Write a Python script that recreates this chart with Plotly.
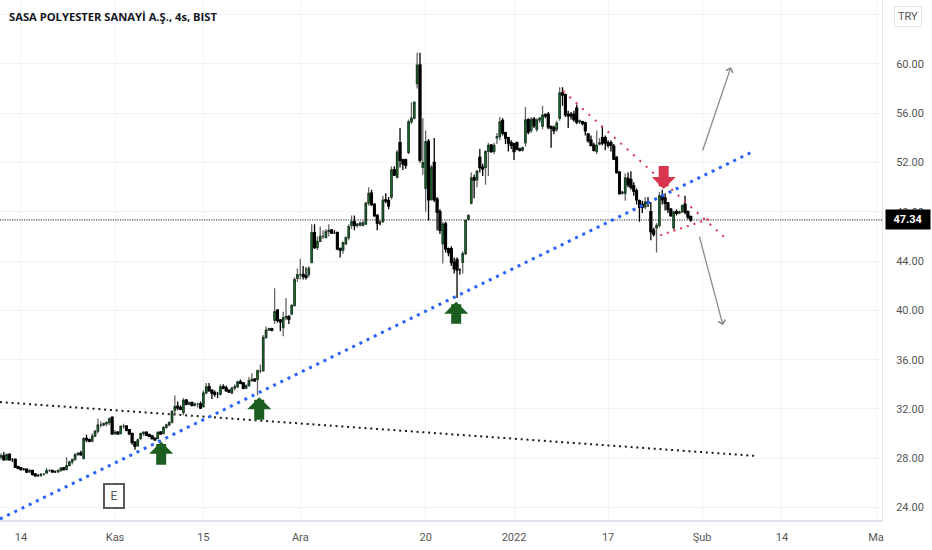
import plotly.graph_objects as go

# 4h bars, prices in TRY
opens = [
    28.1, 28.2, 27.9, 28.3, 27.9, 27.9, 27.3, 27.2, 27.1, 27.1,
    26.9, 27.0, 26.7, 26.6, 26.6, 26.7, 26.8, 27.0, 27.0, 26.9,
    26.9, 27.0, 27.2, 27.1, 27.4, 27.7, 27.9, 28.3, 28.4, 28.0,
    29.6, 29.5, 29.4, 29.8, 30.2, 30.7, 30.7, 30.8, 30.9, 31.3,
    30.0, 30.1, 30.0, 30.6, 30.6, 30.3, 30.0, 29.3, 29.0, 29.6,
    30.0, 30.1, 29.9, 29.8, 29.6, 29.6, 30.1, 30.0, 30.5, 30.7,
    30.9, 31.9, 32.2, 32.1, 31.7, 32.7, 32.4, 32.5, 32.3, 32.4,
    32.4, 32.2, 33.3, 33.8, 33.5, 33.3, 33.2, 33.2, 33.8, 33.7,
    33.5, 33.3, 33.7, 33.8, 34.2, 34.1, 33.7, 33.9, 34.3, 34.4,
    34.4, 35.1, 35.1, 37.8, 38.4, 38.5, 39.2, 40.0, 39.2, 38.6,
    39.4, 39.5, 39.7, 40.4, 42.6, 42.9, 42.9, 42.8, 42.9, 43.9,
    46.3, 45.1, 45.6, 46.0, 45.9, 46.4, 46.5, 46.3, 46.3, 45.0,
    44.9, 45.4, 45.9, 46.9, 47.2, 46.9, 46.9, 46.9, 47.0, 48.7,
    49.5, 48.6, 47.7, 47.1, 47.2, 48.95, 48.9, 49.2, 51.4, 50.8,
    53.6, 52.2, 52.2, 52.8, 55.3, 55.6, 58.4, 59.9, 51.6, 49.9,
    53.7, 49.0, 52.0, 49.0, 48.0, 45.4, 47.0, 45.0, 45.0, 43.9,
    44.1, 43.3, 43.9, 44.6, 47.4, 48.7, 50.75, 50.6, 52.4, 51.6,
    51.6, 52.9, 53.4, 52.9, 54.0, 54.1, 55.4, 54.4, 54.0, 53.6,
    53.5, 53.6, 53.1, 53.0, 53.6, 55.45, 54.6, 55.5, 54.7, 55.45,
    54.95, 55.85, 55.9, 54.9, 54.8, 54.7, 55.6, 57.65, 57.5, 55.9,
    55.9, 55.9, 56.4, 55.3, 55.3, 55.2, 54.3, 53.8, 53.4, 52.9,
    53.5, 54.0, 54.0, 53.6, 53.6, 53.3, 52.4, 51.2, 49.5, 49.5,
    50.7, 50.6, 50.1, 49.7, 48.9, 48.6, 48.4, 48.8, 48.0, 46.5,
    46.7, 46.9, 49.3, 49.1, 48.7, 48.2, 46.7, 48.0, 47.9, 48.0,
    48.6, 48.0, 47.6,
]
highs = [
    28.4, 28.5, 28.4, 28.4, 28.0, 27.9, 27.4, 27.3, 27.2, 27.1,
    27.1, 27.0, 26.8, 26.7, 26.8, 26.8, 27.2, 27.1, 27.0, 27.0,
    27.1, 27.3, 27.3, 28.1, 27.8, 27.9, 28.4, 28.5, 28.6, 29.7,
    29.9, 29.6, 30.0, 30.3, 31.2, 31.0, 30.9, 31.0, 31.3, 31.4,
    30.3, 30.2, 30.6, 30.8, 30.6, 30.3, 30.0, 29.3, 29.6, 30.1,
    30.2, 30.1, 30.0, 29.8, 29.7, 30.2, 30.2, 30.6, 30.8, 31.0,
    31.9, 33.1, 32.6, 32.3, 32.9, 32.8, 32.6, 32.6, 32.5, 32.5,
    32.6, 33.5, 34.1, 34.1, 33.6, 33.5, 33.4, 34.0, 34.0, 33.9,
    33.6, 33.8, 34.0, 34.3, 34.4, 34.1, 34.0, 34.6, 34.9, 34.5,
    35.2, 35.6, 38.0, 38.7, 38.6, 38.6, 41.8, 40.1, 39.3, 39.9,
    41.0, 39.6, 40.5, 42.7, 43.4, 44.2, 43.6, 43.5, 43.6, 47.0,
    47.0, 46.0, 46.8, 46.5, 46.6, 47.0, 46.6, 46.5, 46.4, 45.1,
    45.6, 46.0, 47.0, 47.7, 47.7, 47.1, 47.2, 47.3, 48.8, 50.0,
    49.8, 48.7, 47.8, 47.3, 49.3, 49.5, 49.2, 51.7, 51.7, 53.0,
    54.8, 52.3, 52.3, 55.5, 56.9, 56.9, 60.9, 60.9, 55.6, 54.6,
    53.9, 51.8, 54.0, 49.2, 48.2, 47.2, 47.2, 45.1, 45.2, 44.3,
    44.3, 43.4, 44.8, 47.4, 47.8, 51.2, 51.0, 51.4, 53.1, 51.9,
    53.0, 53.6, 53.5, 53.6, 54.4, 55.7, 55.6, 54.5, 54.1, 53.8,
    53.6, 53.7, 53.2, 53.3, 56.5, 55.6, 55.7, 55.7, 55.6, 55.7,
    56.6, 56.0, 56.1, 55.0, 55.0, 55.4, 58.1, 58.1, 57.6, 56.2,
    56.1, 56.2, 56.7, 55.5, 55.4, 55.3, 54.4, 54.2, 53.6, 54.6,
    54.0, 54.9, 54.2, 53.8, 53.8, 53.5, 52.5, 51.3, 49.7, 51.1,
    51.2, 51.3, 50.4, 49.9, 49.0, 48.9, 49.2, 49.2, 48.8, 46.7,
    47.1, 49.6, 49.8, 49.5, 48.8, 48.3, 48.1, 48.2, 48.1, 48.6,
    49.3, 48.1, 47.7,
]
lows = [
    27.9, 27.8, 27.8, 27.8, 27.7, 27.2, 27.1, 27.0, 27.0, 26.8,
    26.8, 26.6, 26.5, 26.5, 26.5, 26.6, 26.8, 26.9, 26.9, 26.8,
    26.8, 26.9, 27.0, 27.0, 27.4, 27.5, 27.8, 28.2, 28.2, 27.9,
    29.3, 29.3, 29.3, 29.7, 30.0, 30.5, 30.6, 30.6, 30.7, 29.9,
    29.9, 29.9, 30.0, 30.4, 30.2, 29.9, 29.1, 28.7, 29.0, 29.5,
    29.8, 29.8, 29.7, 29.6, 29.5, 29.6, 29.9, 30.0, 30.4, 30.6,
    30.9, 31.6, 31.9, 31.9, 31.5, 32.3, 32.3, 32.2, 32.2, 32.1,
    32.0, 32.1, 33.2, 33.4, 32.8, 33.0, 32.9, 33.1, 33.6, 33.4,
    33.3, 33.2, 33.5, 33.7, 34.0, 33.6, 33.6, 33.8, 34.2, 34.2,
    33.1, 34.9, 35.1, 37.7, 38.4, 38.3, 38.9, 39.0, 38.3, 37.9,
    39.2, 38.9, 39.6, 40.3, 42.3, 42.5, 42.5, 42.5, 42.7, 43.8,
    45.0, 44.9, 45.6, 45.8, 45.9, 46.0, 46.2, 46.2, 44.9, 44.3,
    44.6, 45.3, 45.7, 46.6, 46.5, 46.7, 46.8, 46.8, 47.0, 48.5,
    48.5, 47.6, 46.5, 46.9, 47.1, 48.7, 48.2, 49.0, 50.9, 50.7,
    51.6, 51.4, 51.5, 52.7, 55.1, 55.5, 58.0, 52.0, 51.0, 48.0,
    47.3, 48.9, 48.8, 46.5, 46.2, 43.8, 44.7, 44.4, 43.6, 43.0,
    41.0, 42.9, 43.0, 44.5, 47.3, 48.6, 49.1, 50.0, 51.2, 50.9,
    50.2, 50.9, 52.8, 52.7, 53.5, 53.8, 54.2, 53.5, 52.9, 53.1,
    52.2, 53.0, 52.9, 52.9, 53.3, 54.3, 54.4, 54.8, 54.5, 55.2,
    54.7, 55.6, 54.7, 53.2, 54.3, 54.5, 55.4, 56.6, 55.7, 54.8,
    55.5, 55.3, 55.1, 55.1, 55.0, 54.2, 53.6, 53.3, 52.9, 52.7,
    53.4, 53.4, 53.0, 53.2, 52.9, 52.2, 51.1, 49.4, 49.4, 48.9,
    50.0, 49.8, 49.3, 48.6, 47.2, 47.9, 48.2, 48.4, 45.7, 46.0,
    44.7, 46.7, 48.6, 48.1, 47.9, 47.6, 46.5, 47.7, 47.8, 47.9,
    47.8, 47.4, 47.2,
]
closes = [
    28.2, 27.9, 28.3, 27.9, 27.9, 27.3, 27.2, 27.1, 27.1, 26.9,
    27.0, 26.7, 26.6, 26.6, 26.7, 26.7, 27.0, 27.0, 26.9, 26.9,
    27.0, 27.2, 27.1, 27.4, 27.7, 27.9, 28.3, 28.4, 28.3, 29.6,
    29.5, 29.4, 29.8, 30.2, 30.7, 30.7, 30.8, 30.9, 31.2, 30.0,
    30.1, 30.0, 30.6, 30.6, 30.3, 30.0, 29.3, 29.0, 29.5, 30.0,
    30.1, 29.9, 29.8, 29.6, 29.5, 30.1, 30.0, 30.5, 30.7, 30.9,
    31.8, 32.2, 32.1, 32.0, 32.7, 32.4, 32.5, 32.3, 32.4, 32.4,
    32.1, 33.3, 33.8, 33.5, 33.3, 33.2, 33.2, 33.8, 33.7, 33.5,
    33.4, 33.7, 33.8, 34.2, 34.1, 33.7, 33.9, 34.3, 34.4, 34.3,
    35.1, 35.1, 37.8, 38.4, 38.5, 38.4, 39.9, 39.2, 39.1, 39.4,
    39.5, 39.3, 40.4, 42.5, 42.9, 42.9, 42.8, 42.7, 43.4, 46.3,
    45.1, 45.6, 46.0, 46.0, 46.4, 46.5, 46.3, 46.3, 45.0, 44.9,
    45.5, 45.9, 46.8, 47.2, 46.9, 47.0, 47.1, 47.1, 48.7, 49.5,
    48.6, 47.7, 47.1, 47.1, 48.95, 48.9, 48.5, 51.4, 51.0, 52.85,
    52.2, 51.9, 51.8, 55.3, 55.6, 56.9, 59.9, 52.2, 52.0, 53.7,
    49.0, 51.6, 49.0, 48.0, 46.5, 47.0, 45.0, 44.7, 43.9, 43.4,
    43.3, 43.3, 44.6, 47.3, 47.7, 50.75, 50.6, 51.3, 51.6, 51.5,
    52.9, 53.4, 52.9, 53.4, 54.1, 55.3, 54.4, 54.0, 53.6, 53.4,
    52.9, 53.1, 53.0, 53.2, 55.45, 54.5, 55.5, 55.0, 55.45, 55.6,
    55.85, 55.8, 54.9, 54.8, 54.6, 55.2, 57.65, 57.5, 55.9, 55.8,
    55.8, 55.5, 55.3, 55.4, 55.2, 54.6, 53.8, 53.4, 53.0, 53.4,
    53.6, 53.6, 53.6, 53.4, 53.4, 52.3, 51.2, 49.5, 49.6, 50.75,
    50.2, 50.0, 49.7, 49.0, 48.4, 48.4, 48.8, 48.7, 46.4, 46.2,
    46.9, 49.3, 49.0, 48.7, 48.2, 47.7, 48.0, 47.9, 48.0, 48.5,
    48.0, 47.6, 47.34,
]

tick_bars = [7, 40, 71, 105, 149, 180, 213, 246, 274, 307]
tick_names = ["14", "Kas", "15", "Ara", "20", "2022", "17", "Şub", "14", "Ma"]
price_ticks = [24, 28, 32, 36, 40, 44, 48, 52, 56, 60, 64]
price_names = ["24.00", "28.00", "32.00", "36.00", "40.00", "44.00", "48.00", "52.00", "56.00", "60.00", ""]
last_price = 47.34

# drawings on the chart, (bar, price) at each end
blue_x, blue_y = [-0.35, 263.5], [23.07, 52.86]
black_x, black_y = [-0.35, 265.3], [32.56, 28.18]
red_top_x, red_top_y = [197.2, 253.7], [57.8, 45.96]
red_low_x, red_low_y = [231.3, 249.5], [46.1, 47.5]

# tip bar, tip price, tail price
green_arrows = [(56.2, 29.35, 27.35), (90.6, 32.95, 31.0), (159.7, 40.7, 38.8)]
red_arrow = (232.5, 49.85, 51.85)
# tip bar, tip price, tail bar, tail price
grey_arrows = [(256.1, 59.75, 246.0, 52.85), (253.3, 38.8, 244.9, 46.1)]

bars = list(range(len(closes)))
body_high = [max(o, c) for o, c in zip(opens, closes)]
body_low = [min(o, c) for o, c in zip(opens, closes)]

fig = go.Figure()

# wicks, grey on up bars
fig.add_trace(go.Candlestick(
    x=bars, open=opens, high=highs, low=lows, close=closes,
    increasing=dict(line=dict(color="#666666", width=1.3), fillcolor="#1f7a34"),
    decreasing=dict(line=dict(color="#000000", width=1.3), fillcolor="#000000"),
    hoverinfo="skip", showlegend=False))
# bodies again on top with a black outline
fig.add_trace(go.Candlestick(
    x=bars, open=opens, high=body_high, low=body_low, close=closes,
    increasing=dict(line=dict(color="#0c2e14", width=0.8), fillcolor="#23893a"),
    decreasing=dict(line=dict(color="#000000", width=1.6), fillcolor="#000000"),
    hoverinfo="skip", showlegend=False))

def trend(xs, ys, color, width, dash):
    fig.add_trace(go.Scatter(x=xs, y=ys, mode="lines", hoverinfo="skip", showlegend=False,
                             line=dict(color=color, width=width, dash=dash)))

trend([-0.35, 309.1], [last_price, last_price], "#222222", 1, "1.2px,1.2px")
trend(black_x, black_y, "#1a1a1a", 2, "2px,3.8px")
trend(blue_x, blue_y, "#2962ff", 3, "3px,5px")
trend(red_top_x, red_top_y, "#d8354e", 2, "2px,6.6px")
trend(red_low_x, red_low_y, "#d8354e", 2, "2px,5px")

notes = []
for x, tip, tail in green_arrows:
    notes.append(dict(x=x, y=tip, ax=x, ay=tail, axref="x", ayref="y", text="", showarrow=True,
                      arrowhead=1, arrowwidth=10, arrowsize=0.4, arrowcolor="#1b5e20"))
notes.append(dict(x=red_arrow[0], y=red_arrow[1], ax=red_arrow[0], ay=red_arrow[2], axref="x", ayref="y",
                  text="", showarrow=True, arrowhead=1, arrowwidth=10, arrowsize=0.4, arrowcolor="#d8354e"))
for x, y, ax, ay in grey_arrows:
    notes.append(dict(x=x, y=y, ax=ax, ay=ay, axref="x", ayref="y", text="", showarrow=True,
                      arrowhead=4, arrowwidth=1.3, arrowsize=1.1, arrowcolor="#8c8c8c"))

notes.append(dict(xref="paper", yref="paper", x=0.0085, y=0.986, xanchor="left", yanchor="top", showarrow=False,
                  text="<b>SASA POLYESTER SANAYİ A.Ş., 4s, BIST</b>",
                  font=dict(family="Open Sans", size=11.2, color="#131722")))
notes.append(dict(xref="paper", yref="paper", x=1.0295, y=0.968, xanchor="center", yanchor="middle", showarrow=False,
                  text="TRY", font=dict(family="Roboto", size=11, color="#555555"),
                  bordercolor="#e0e3eb", borderwidth=1, borderpad=3, bgcolor="#ffffff"))
notes.append(dict(x=39.7, y=24.9, xanchor="center", yanchor="middle", showarrow=False,
                  text="E", font=dict(family="Roboto", size=12, color="#555555"),
                  bordercolor="#5a5a5a", borderwidth=2, borderpad=3, bgcolor="#ffffff", width=12, height=16))
notes.append(dict(xref="paper", yref="y", x=1.0035, y=last_price, xanchor="left", yanchor="middle", showarrow=False,
                  text="<b>47.34</b>", font=dict(family="Roboto", size=11, color="#ffffff"),
                  bgcolor="#000000", width=42, height=17))

fig.update_layout(
    width=932, height=550,
    margin=dict(l=0, r=50, t=0, b=30),
    paper_bgcolor="#ffffff", plot_bgcolor="#ffffff",
    showlegend=False,
    annotations=notes,
    xaxis=dict(range=[-0.35, 309.1], rangeslider=dict(visible=False), tickmode="array",
               tickvals=tick_bars, ticktext=tick_names, showgrid=True, gridcolor="#f0f3fa",
               zeroline=False, showline=True, linecolor="#e0e3eb", linewidth=2,
               ticks="outside", ticklen=6, tickcolor="#ffffff",
               tickfont=dict(family="Roboto", size=11, color="#555555")),
    yaxis=dict(range=[22.99, 65.19], side="right", tickmode="array",
               tickvals=price_ticks, ticktext=price_names, showgrid=True, gridcolor="#f0f3fa",
               zeroline=False, showline=True, linecolor="#e0e3eb", linewidth=1,
               ticks="outside", ticklen=11, tickcolor="#ffffff",
               tickfont=dict(family="Roboto", size=11, color="#555555")),
)

fig.write_html("out.html", config=dict(displayModeBar=False),
               post_script="document.body.style.margin='0';")
